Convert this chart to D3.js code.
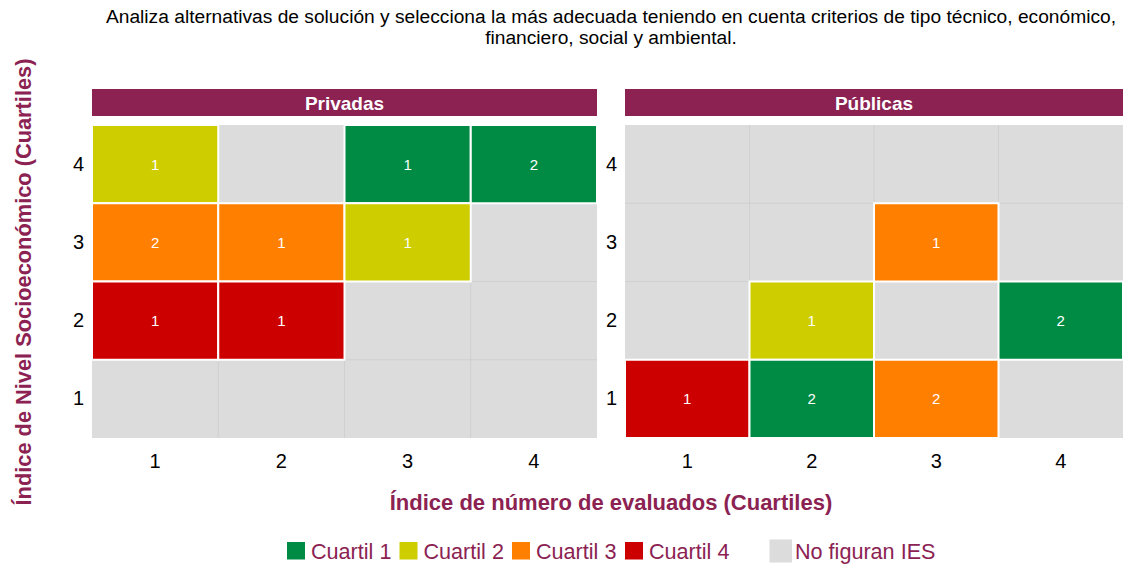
<!DOCTYPE html>
<html><head><meta charset="utf-8">
<script src="https://cdn.jsdelivr.net/npm/d3@7"></script>
<style>body{margin:0;background:#fff}svg{display:block;font-family:"Liberation Sans",Arial,sans-serif}</style>
</head><body><svg id="c" width="1123" height="565"></svg>
<script>
const titleLines = ["Analiza alternativas de solución y selecciona la más adecuada teniendo en cuenta criterios de tipo técnico, económico,", "financiero, social y ambiental."];
const panels = ["Privadas", "Públicas"];
const xCats = [1, 2, 3, 4];
const yCats = [1, 2, 3, 4];
const cuartiles = ["Cuartil 1", "Cuartil 2", "Cuartil 3", "Cuartil 4"];
const colors = ["#008B45", "#CDCD00", "#FF7F00", "#CD0000"];
const noLabel = "No figuran IES";
// panel, x, y, cuartil (1-4), count
const cellPanel = ["Privadas","Privadas","Privadas","Privadas","Privadas","Privadas","Privadas","Privadas","Públicas","Públicas","Públicas","Públicas","Públicas","Públicas"];
const cellX =     [1,3,4,1,2,3,1,2, 3,2,4,1,2,3];
const cellY =     [4,4,4,3,3,3,2,2, 3,2,2,1,1,1];
const cellQ =     [2,1,1,3,3,2,4,4, 3,2,1,4,1,3];
const cellN =     [1,1,2,2,1,1,1,1, 1,1,2,1,2,2];

const svg = d3.select("#c");
const purple = "#8B2252";
const panelX = [[92, 597], [625, 1123]];
const pTop = 125, pBottom = 438;
const y = d3.scaleBand().domain(yCats.slice().reverse()).range([pTop, pBottom]).padding(0);

svg.append("g").selectAll("text").data(titleLines).join("text")
  .attr("x", 611).attr("y", (d, i) => 23 + i * 21).attr("text-anchor", "middle")
  .attr("font-size", 19.2).attr("fill", "#000").text(d => d);

panels.forEach((p, pi) => {
  const x = d3.scaleBand().domain(xCats).range(panelX[pi]).padding(0);
  const g = svg.append("g");
  g.append("rect").attr("x", panelX[pi][0]).attr("y", 89).attr("width", panelX[pi][1] - panelX[pi][0]).attr("height", 27).attr("fill", purple);
  g.append("text").attr("x", (panelX[pi][0] + panelX[pi][1]) / 2).attr("y", 109.5).attr("text-anchor", "middle")
    .attr("fill", "#fff").attr("font-weight", "bold").attr("font-size", 19).text(p);
  g.append("rect").attr("x", panelX[pi][0]).attr("y", pTop).attr("width", panelX[pi][1] - panelX[pi][0]).attr("height", pBottom - pTop).attr("fill", "#DCDCDC");
  xCats.slice(1).forEach(c => g.append("line").attr("x1", x(c)).attr("x2", x(c)).attr("y1", pTop).attr("y2", pBottom).attr("stroke", "#cdcdcd").attr("stroke-width", 0.8));
  yCats.slice(0, 3).forEach(c => g.append("line").attr("x1", panelX[pi][0]).attr("x2", panelX[pi][1]).attr("y1", y(c)).attr("y2", y(c)).attr("stroke", "#cdcdcd").attr("stroke-width", 0.8));
  const idx = cellPanel.map((d, i) => i).filter(i => cellPanel[i] === p);
  g.selectAll("rect.tile").data(idx).join("rect").attr("class", "tile")
    .attr("x", i => x(cellX[i])).attr("y", i => y(cellY[i]))
    .attr("width", x.bandwidth()).attr("height", y.bandwidth())
    .attr("fill", i => colors[cellQ[i] - 1]).attr("stroke", "#fff").attr("stroke-width", 2);
  g.selectAll("text.lab").data(idx).join("text").attr("class", "lab")
    .attr("x", i => x(cellX[i]) + x.bandwidth() / 2).attr("y", i => y(cellY[i]) + y.bandwidth() / 2 + 5.5)
    .attr("text-anchor", "middle").attr("fill", "#fff").attr("font-size", 15).text(i => cellN[i]);
  const xa = g.append("g").attr("transform", `translate(0,${pBottom})`).call(d3.axisBottom(x).tickSize(0).tickPadding(16));
  xa.select(".domain").remove();
  xa.selectAll("text").attr("font-size", 20).attr("fill", "#000").attr("font-family", "Liberation Sans, Arial, sans-serif");
  const ya = g.append("g").attr("transform", `translate(${panelX[pi][0]},0)`).call(d3.axisLeft(y).tickSize(0).tickPadding(8));
  ya.select(".domain").remove();
  ya.selectAll("text").attr("font-size", 20).attr("fill", "#000").attr("font-family", "Liberation Sans, Arial, sans-serif");
});

svg.append("text").attr("transform", "translate(31,282) rotate(-90)").attr("text-anchor", "middle")
  .attr("fill", purple).attr("font-weight", "bold").attr("font-size", 21.8).text("Índice de Nivel Socioeconómico (Cuartiles)");
svg.append("text").attr("x", 611).attr("y", 510).attr("text-anchor", "middle")
  .attr("fill", purple).attr("font-weight", "bold").attr("font-size", 22).text("Índice de número de evaluados (Cuartiles)");

const lg = svg.append("g");
const lx = [287, 399.5, 512, 625];
cuartiles.forEach((c, i) => {
  lg.append("rect").attr("x", lx[i]).attr("y", 542).attr("width", 18).attr("height", 17.5).attr("fill", colors[i]);
  lg.append("text").attr("x", lx[i] + 24).attr("y", 558.5).attr("fill", purple).attr("font-size", 21.6).text(c);
});
lg.append("rect").attr("x", 769.5).attr("y", 539.5).attr("width", 22.5).attr("height", 23).attr("fill", "#DCDCDC");
lg.append("text").attr("x", 795).attr("y", 558.5).attr("fill", purple).attr("font-size", 21.6).text(noLabel);
</script></body></html>
